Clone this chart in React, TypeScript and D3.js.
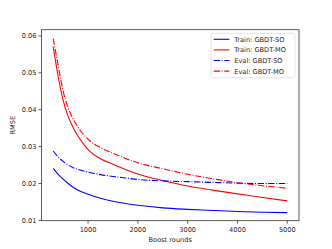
import React from "react";
import * as d3 from "d3";

const rounds = [300, 400, 500, 600, 700, 800, 1000, 1250, 1500, 1750, 2000, 2500, 3000, 3500, 4000, 4500, 5000];
const trainSO = [0.0241, 0.0225, 0.0212, 0.0200, 0.0190, 0.0182, 0.0171, 0.0160, 0.0152, 0.0146, 0.0141, 0.0134, 0.0130, 0.0127, 0.0124, 0.0122, 0.0121];
const trainMO = [0.0571, 0.0490, 0.0425, 0.0382, 0.0352, 0.0328, 0.0292, 0.0267, 0.0252, 0.0238, 0.0226, 0.0208, 0.0193, 0.0182, 0.0172, 0.0162, 0.0153];
const evalSO = [0.0288, 0.0272, 0.0260, 0.0250, 0.0243, 0.0238, 0.0231, 0.0224, 0.0219, 0.0215, 0.0211, 0.0207, 0.0205, 0.0203, 0.0201, 0.0200, 0.0200];
const evalMO = [0.0593, 0.0520, 0.0450, 0.0405, 0.0375, 0.0352, 0.0320, 0.0297, 0.0282, 0.0268, 0.0256, 0.0240, 0.0225, 0.0213, 0.0202, 0.0194, 0.0187];
const xTicks = [1000, 2000, 3000, 4000, 5000];
const yTicks = [0.01, 0.02, 0.03, 0.04, 0.05, 0.06];

const series = [
  { name: "Train: GBDT-SO", values: trainSO, color: "#0000ff", dash: "" },
  { name: "Train: GBDT-MO", values: trainMO, color: "#ff0000", dash: "" },
  { name: "Eval: GBDT-SO", values: evalSO, color: "#0000ff", dash: "6.4,1.6,1,1.6" },
  { name: "Eval: GBDT-MO", values: evalMO, color: "#ff0000", dash: "6.4,1.6,1,1.6" },
];

export default function App() {
  const W = 332, H = 249;
  const L = 41.5, R = 299, T = 29.7, B = 220.7;
  const x = d3.scaleLinear().domain([65, 5235]).range([L, R]);
  const y = d3.scaleLinear().domain([0.01, 0.0617]).range([220.4, 220.4 - 5.17 * 36.9]);
  const line = (vals: number[]) =>
    d3.line<number>().x((_, i) => x(rounds[i])).y((d) => y(d)).curve(d3.curveMonotoneX)(vals) || "";
  const font = "DejaVu Sans, sans-serif";
  const fs = 6.6;
  const legX = 211, legY = 33.3, legW = 84, legH = 44.4;
  return (
    <svg width={W} height={H} style={{ position: "absolute", left: 0, top: 0 }} fontFamily={font}>
      <rect x={0} y={0} width={W} height={H} fill="#fff" />
      <g>
        {series.map((s) => (
          <path key={s.name} d={line(s.values)} fill="none" stroke={s.color} strokeWidth={1.1} strokeDasharray={s.dash} />
        ))}
      </g>
      <rect x={L} y={T} width={R - L} height={B - T} fill="none" stroke="#333" strokeWidth={0.8} />
      {xTicks.map((t) => (
        <g key={t}>
          <line x1={x(t)} x2={x(t)} y1={B} y2={B + 3} stroke="#333" strokeWidth={0.8} />
          <text x={x(t)} y={B + 11} fontSize={fs} textAnchor="middle" fill="#222">{t}</text>
        </g>
      ))}
      {yTicks.map((t) => (
        <g key={t}>
          <line x1={L - 3} x2={L} y1={y(t)} y2={y(t)} stroke="#333" strokeWidth={0.8} />
          <text x={L - 5} y={y(t) + 2.4} fontSize={fs} textAnchor="end" fill="#222">{t.toFixed(2)}</text>
        </g>
      ))}
      <text x={(L + R) / 2} y={242} fontSize={fs} textAnchor="middle" fill="#222">Boost rounds</text>
      <text transform={`translate(14.5,${(T + B) / 2}) rotate(-90)`} fontSize={fs} textAnchor="middle" fill="#222">RMSE</text>
      <rect x={legX} y={legY} width={legW} height={legH} rx={1.5} fill="#fff" fillOpacity={0.8} stroke="#ddd" strokeWidth={0.8} />
      {series.map((s, i) => {
        const yy = 39.3 + i * 10.6;
        return (
          <g key={s.name}>
            <line x1={213.7} x2={229.3} y1={yy} y2={yy} stroke={s.color} strokeWidth={1.1} strokeDasharray={s.dash} />
            <text x={234.3} y={yy + 2.4} fontSize={fs} fill="#222">{s.name}</text>
          </g>
        );
      })}
    </svg>
  );
}
